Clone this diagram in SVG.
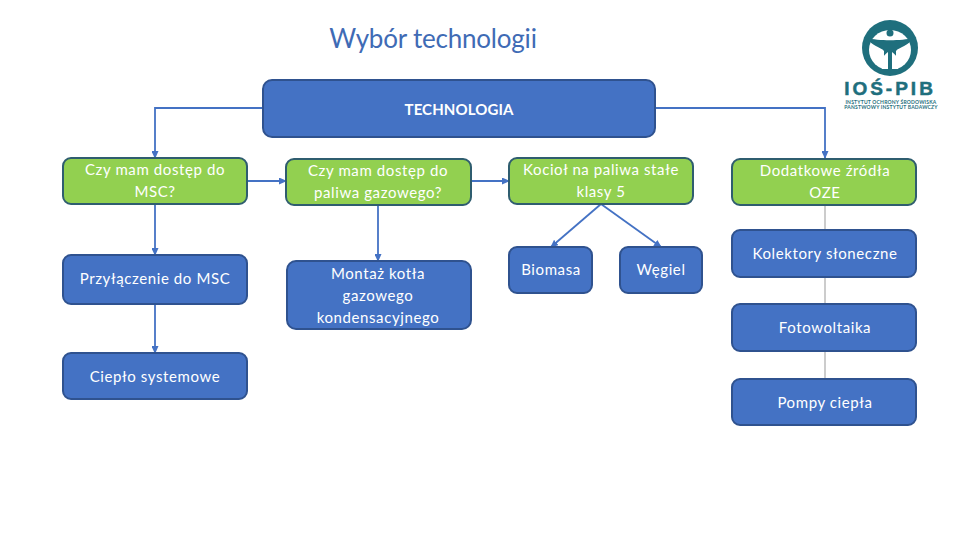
<svg xmlns="http://www.w3.org/2000/svg" width="960" height="540" viewBox="0 0 960 540">
<style>
text{font-family:Lato,"Liberation Sans",sans-serif;text-anchor:middle;fill:#fff;font-size:15px;letter-spacing:.6px}
.b rect{fill:#4472c4;stroke:#2f528f;stroke-width:2}
.g rect{fill:#92d050;stroke:#2f5d6f;stroke-width:2}
.c path{fill:none;stroke:#4472c4;stroke-width:1.8}
.t path{fill:none;stroke:#999;stroke-width:1}
</style>
<defs><marker id="a" markerWidth="8" markerHeight="7" refX="7" refY="3.5" orient="auto" markerUnits="userSpaceOnUse"><path d="M0 0L8 3.5L0 7z" fill="#4472c4"/></marker></defs>
<rect width="960" height="540" fill="#fff"/>
<text x="433" y="48" style="font-size:26px;fill:#3f6bb5;letter-spacing:-.2px">Wybór technologii</text>
<g id="connectors" class="c">
<path d="M263 108H155V158" marker-end="url(#a)"/>
<path d="M655 108H825V158" marker-end="url(#a)"/>
<path d="M155 204V255" marker-end="url(#a)"/>
<path d="M155 304V353" marker-end="url(#a)"/>
<path d="M247 181H286" marker-end="url(#a)"/>
<path d="M471 181H509" marker-end="url(#a)"/>
<path d="M378 205V261" marker-end="url(#a)"/>
<path d="M601 204L551 247" marker-end="url(#a)"/>
<path d="M601 204L661 247" marker-end="url(#a)"/>
</g>
<g class="t">
<path d="M825 205V230M825 277V304M825 351V379"/>
</g>
<g id="technologia" class="b"><rect x="263" y="80" width="392" height="57" rx="9"/><text x="459" y="115" style="font-weight:700;letter-spacing:.1px">TECHNOLOGIA</text></g>
<g id="msc-q" class="g"><rect x="63" y="158" width="184" height="46" rx="8"/><text x="155" y="175">Czy mam dostęp do</text><text x="155" y="197">MSC?</text></g>
<g id="gaz-q" class="g"><rect x="286" y="159" width="185" height="46" rx="8"/><text x="378" y="176">Czy mam dostęp do</text><text x="378" y="198">paliwa gazowego?</text></g>
<g id="kociol" class="g"><rect x="509" y="158" width="184" height="46" rx="8"/><text x="601" y="175">Kocioł na paliwa stałe</text><text x="601" y="197">klasy 5</text></g>
<g id="oze" class="g"><rect x="732" y="159" width="184" height="46" rx="8"/><text x="825" y="176">Dodatkowe źródła</text><text x="825" y="198">OZE</text></g>
<g id="przylaczenie" class="b"><rect x="63" y="255" width="184" height="49" rx="8"/><text x="155" y="284">Przyłączenie do MSC</text></g>
<g id="montaz" class="b"><rect x="287" y="261" width="184" height="68" rx="9"/><text x="378" y="279">Montaż kotła</text><text x="378" y="301">gazowego</text><text x="378" y="323">kondensacyjnego</text></g>
<g id="cieplo" class="b"><rect x="63" y="353" width="184" height="46" rx="8"/><text x="155" y="382">Ciepło systemowe</text></g>
<g id="biomasa" class="b"><rect x="509" y="247" width="83" height="46" rx="8"/><text x="551" y="275">Biomasa</text></g>
<g id="wegiel" class="b"><rect x="620" y="247" width="82" height="46" rx="8"/><text x="661" y="275">Węgiel</text></g>
<g id="kolektory" class="b"><rect x="732" y="230" width="184" height="47" rx="8"/><text x="825" y="259">Kolektory słoneczne</text></g>
<g id="fotowoltaika" class="b"><rect x="732" y="304" width="184" height="47" rx="8"/><text x="825" y="333">Fotowoltaika</text></g>
<g id="pompy" class="b"><rect x="732" y="379" width="184" height="46" rx="8"/><text x="825" y="408">Pompy ciepła</text></g>
<g id="logo">
<circle cx="890" cy="48" r="28" fill="#1f6f7d"/>
<ellipse cx="890" cy="50" rx="21" ry="20" fill="#fff"/>
<circle cx="890" cy="33" r="3.5" fill="#1f6f7d"/>
<path d="M867 38C878 41 902 41 913 38C909 46 899 47 896 51V70H884V51C881 47 871 46 867 38z" fill="#1f6f7d"/>
<path d="M888 52C882 56 880 63 882 69H888zM892 52C898 56 900 63 898 69H892z" fill="#fff"/>
<text x="890" y="95" style="font-size:19px;font-weight:700;fill:#1f6f7d;stroke:#1f6f7d;stroke-width:.5;letter-spacing:3px;font-family:'Liberation Sans',sans-serif">IOŚ-PIB</text>
<text x="891" y="104" style="font-size:5px;font-weight:700;fill:#1f6f7d;letter-spacing:.2px">INSTYTUT OCHRONY ŚRODOWISKA</text>
<text x="891" y="109" style="font-size:5px;font-weight:700;fill:#1f6f7d;letter-spacing:.2px">PAŃSTWOWY INSTYTUT BADAWCZY</text>
</g>
</svg>
